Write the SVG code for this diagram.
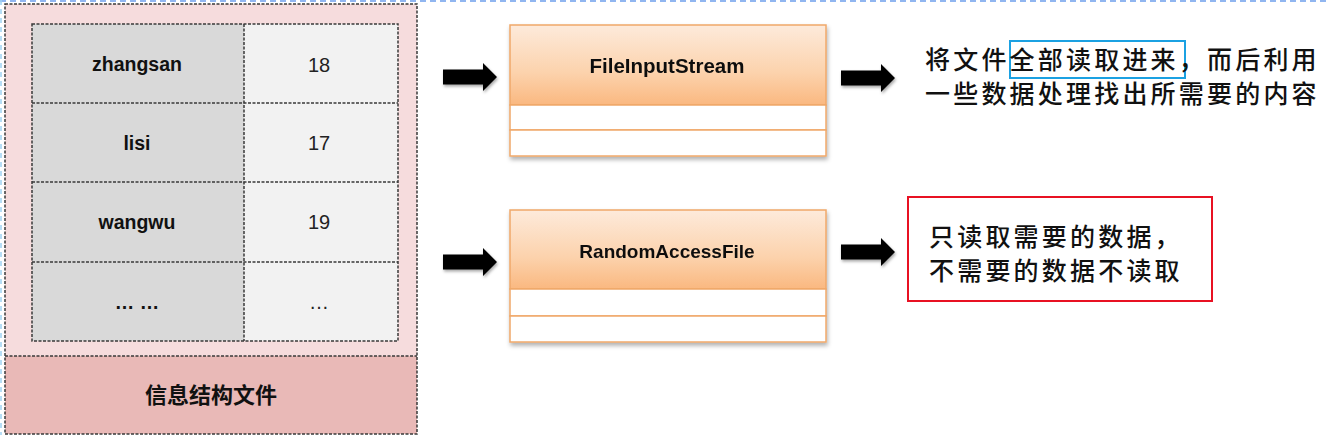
<svg xmlns="http://www.w3.org/2000/svg" width="1328" height="435" viewBox="0 0 1328 435">
<defs>
<linearGradient id="hdr" x1="0" y1="0" x2="0" y2="1">
<stop offset="0" stop-color="#fdeadb"/>
<stop offset="0.6" stop-color="#fcd2ac"/>
<stop offset="1" stop-color="#fab880"/>
</linearGradient>
<filter id="sh" x="-10%" y="-10%" width="120%" height="130%">
<feDropShadow dx="1" dy="3" stdDeviation="2" flood-color="#000" flood-opacity="0.3"/>
</filter>
<filter id="ash" x="-20%" y="-30%" width="140%" height="160%">
<feDropShadow dx="1" dy="2" stdDeviation="1.5" flood-color="#000" flood-opacity="0.35"/>
</filter>
<path id="arrow" d="M0,-7.5 H40 V-14 L54,0 L40,14 V7.5 H0 Z"/>
</defs>
<style>
.dash{fill:none;stroke:#3a3a3a;stroke-width:1.5;stroke-dasharray:3 1.5}
.cellL{fill:#d9d9d9}
.cellR{fill:#f2f2f2}
.name{font-family:"Liberation Sans",Arial,sans-serif;font-weight:bold;font-size:19.5px;fill:#111;text-anchor:middle}
.num{font-family:"Liberation Sans",Arial,sans-serif;font-size:20px;fill:#222;text-anchor:middle}
.box{stroke:#f0a86a;stroke-width:1.5}
.row{fill:#fff;stroke:#f0a86a;stroke-width:1.5}
.cls{font-family:"Liberation Sans",Arial,sans-serif;font-weight:bold;fill:#111;text-anchor:middle}
.cn{font-family:"Noto Sans CJK SC","Noto Sans",sans-serif;font-size:25px;letter-spacing:3.2px;fill:#111;font-weight:500}
</style>
<rect width="1328" height="435" fill="#fff"/>
<line x1="0" y1="1" x2="1328" y2="1" stroke="#6d9eeb" stroke-width="1.5" stroke-dasharray="6 4"/>
<line x1="1" y1="0" x2="1" y2="435" stroke="#9ed2f2" stroke-width="1.5" stroke-dasharray="5 4"/>

<g id="file-structure">
<rect x="5" y="4" width="412" height="352" fill="#f6dcdd"/>
<rect x="5" y="356" width="412" height="78" fill="#e9b9b7"/>
<rect x="5" y="4" width="412" height="430" class="dash"/>
<line x1="5" y1="356" x2="417" y2="356" class="dash"/>
<text x="211" y="403" font-family="'Noto Sans CJK SC',sans-serif" font-size="22" font-weight="bold" fill="#111" text-anchor="middle">信息结构文件</text>
</g>

<g id="table">
<rect x="32" y="24" width="212" height="317" class="cellL"/>
<rect x="244" y="24" width="154" height="317" class="cellR"/>
<rect x="32" y="24" width="366" height="317" class="dash"/>
<line x1="244" y1="24" x2="244" y2="341" class="dash"/>
<line x1="32" y1="103" x2="398" y2="103" class="dash"/>
<line x1="32" y1="182" x2="398" y2="182" class="dash"/>
<line x1="32" y1="262" x2="398" y2="262" class="dash"/>
<text x="137" y="71" class="name">zhangsan</text>
<text x="319" y="72" class="num">18</text>
<text x="137" y="150" class="name">lisi</text>
<text x="319" y="150" class="num">17</text>
<text x="137" y="229" class="name">wangwu</text>
<text x="319" y="229" class="num">19</text>
<text x="137" y="309" class="name">… …</text>
<text x="319" y="309" class="num">…</text>
</g>

<g id="FileInputStream" filter="url(#sh)">
<rect x="510" y="25" width="316" height="80" fill="url(#hdr)" class="box"/>
<rect x="510" y="105" width="316" height="25" class="row"/>
<rect x="510" y="130" width="316" height="26" class="row"/>
<text x="667" y="73" class="cls" font-size="20.5">FileInputStream</text>
</g>

<g id="RandomAccessFile" filter="url(#sh)">
<rect x="510" y="210" width="316" height="79" fill="url(#hdr)" class="box"/>
<rect x="510" y="289" width="316" height="27" class="row"/>
<rect x="510" y="316" width="316" height="26" class="row"/>
<text x="667" y="258" class="cls" font-size="19">RandomAccessFile</text>
</g>

<g id="note-full">
<rect x="1010" y="41" width="175" height="37" fill="none" stroke="#1ba1e2" stroke-width="2"/>
<text class="cn"><tspan x="925" y="69">将文件全部读取进来，而后利用</tspan><tspan x="925" y="103">一些数据处理找出所需要的内容</tspan></text>
</g>

<g id="note-random">
<rect x="908" y="197" width="304" height="104" fill="#fff" stroke="#e81123" stroke-width="2"/>
<text class="cn"><tspan x="929" y="246">只读取需要的数据，</tspan><tspan x="929" y="280">不需要的数据不读取</tspan></text>
</g>

<g id="connectors" fill="#000" filter="url(#ash)">
<use href="#arrow" transform="translate(443,77)"/>
<use href="#arrow" transform="translate(841,78)"/>
<use href="#arrow" transform="translate(443,262)"/>
<use href="#arrow" transform="translate(841,252)"/>
</g>
</svg>
